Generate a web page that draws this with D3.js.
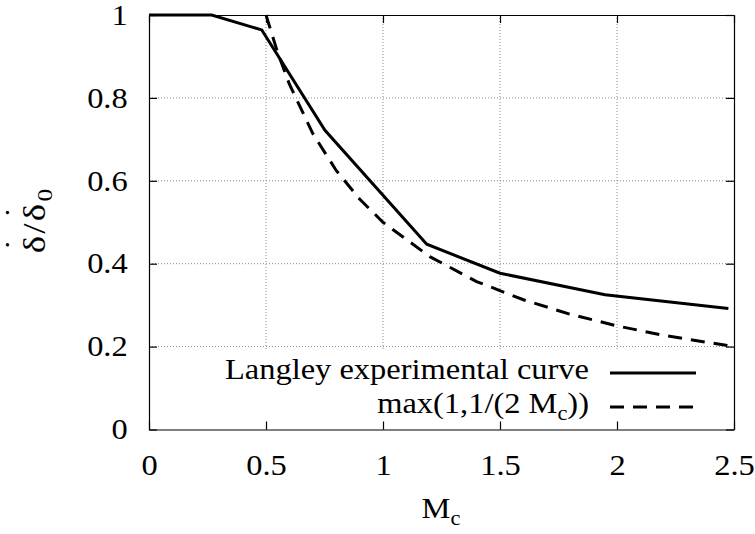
<!DOCTYPE html>
<html>
<head>
<meta charset="utf-8">
<script src="https://cdn.jsdelivr.net/npm/d3@7"></script>
<style>
  body { margin: 0; background: #fff; }
  svg text { font-family: "Liberation Serif", "Times New Roman", serif; fill: #000; }
</style>
</head>
<body>
<svg id="chart" width="755" height="534"></svg>
<script>
// data
var xTicks = [0, 0.5, 1, 1.5, 2, 2.5];
var yTicks = [0, 0.2, 0.4, 0.6, 0.8, 1];
var langleyM = [0, 0.268, 0.482, 0.752, 1.187, 1.5, 1.949, 2.476];
var langleyR = [1, 1, 0.964, 0.722, 0.447, 0.377, 0.325, 0.292];
var modelM = [0.5, 0.55, 0.6, 0.7, 0.8, 0.9, 1.0, 1.2, 1.4, 1.6, 1.8, 2.0, 2.2, 2.5];
var modelR = [1, 0.909, 0.833, 0.714, 0.625, 0.556, 0.5, 0.417, 0.357, 0.313, 0.278, 0.25, 0.227, 0.2];

(function () {
  var padL = 149, padT = 15, w = 585, h = 414.5;
  var fs = 29, sx = 1.12; // serif text looks a bit wide in the original

  var svg = d3.select('#chart');
  var x = d3.scaleLinear().domain([0, 2.5]).range([0, w]);
  var y = d3.scaleLinear().domain([0, 1]).range([h, 0]);

  var g = svg.append('g').attr('transform', 'translate(' + padL + ',' + padT + ')');

  // grid
  g.selectAll('.vgrid').data(xTicks.slice(1, -1)).enter().append('line')
    .attr('x1', d => x(d)).attr('x2', d => x(d))
    .attr('y1', 0).attr('y2', h)
    .attr('stroke', '#8a8a8a').attr('stroke-width', 1).attr('stroke-dasharray', '1,2');
  g.selectAll('.hgrid').data(yTicks.slice(1, -1)).enter().append('line')
    .attr('x1', 0).attr('x2', w)
    .attr('y1', d => y(d)).attr('y2', d => y(d))
    .attr('stroke', '#8a8a8a').attr('stroke-width', 1).attr('stroke-dasharray', '1,2');

  // legend background hides grid under the key
  g.append('rect').attr('x', 58).attr('y', 336).attr('width', 505).attr('height', 76).attr('fill', '#fff');

  // curves
  var line = d3.line().x(d => x(d[0])).y(d => y(d[1]));
  g.append('path').datum(d3.zip(langleyM, langleyR))
    .attr('d', line).attr('fill', 'none').attr('stroke', '#000').attr('stroke-width', 3);
  g.append('path').datum(d3.zip(modelM, modelR))
    .attr('d', line).attr('fill', 'none').attr('stroke', '#000').attr('stroke-width', 3)
    .attr('stroke-dasharray', '14,9');

  // axes, ticks inward and mirrored
  function styleAxis(sel) {
    sel.attr('font-family', null).attr('font-size', null);
    sel.select('.domain').attr('stroke', '#000').attr('stroke-width', 1.2);
    sel.selectAll('.tick line').attr('stroke', '#000').attr('stroke-width', 1.2);
    sel.selectAll('text').style('font-size', fs + 'px')
      .attr('transform', 'scale(' + sx + ',1)');
  }
  var fmt = d3.format('');
  g.append('g').attr('transform', 'translate(0,' + h + ')')
    .call(d3.axisBottom(x).tickValues(xTicks).tickSizeInner(-8).tickSizeOuter(0).tickPadding(25).tickFormat(fmt))
    .call(styleAxis);
  g.append('g')
    .call(d3.axisTop(x).tickValues(xTicks).tickSizeInner(-8).tickSizeOuter(0).tickFormat(''))
    .call(styleAxis);
  g.append('g')
    .call(d3.axisLeft(y).tickValues(yTicks).tickSizeInner(-8).tickSizeOuter(0).tickPadding(19).tickFormat(fmt))
    .call(styleAxis);
  g.append('g').attr('transform', 'translate(' + w + ',0)')
    .call(d3.axisRight(y).tickValues(yTicks).tickSizeInner(-8).tickSizeOuter(0).tickFormat(''))
    .call(styleAxis);

  // legend
  var leg = svg.append('g');
  leg.append('text').attr('transform', 'translate(589,379) scale(' + sx + ',1)')
    .attr('text-anchor', 'end').style('font-size', fs + 'px').text('Langley experimental curve');
  var t2 = leg.append('text').attr('transform', 'translate(589,413) scale(' + sx + ',1)')
    .attr('text-anchor', 'end').style('font-size', fs + 'px');
  t2.append('tspan').text('max(1,1/(2 M');
  t2.append('tspan').attr('dy', 7).style('font-size', '20px').text('c');
  t2.append('tspan').attr('dy', -7).text('))');
  leg.append('line').attr('x1', 610).attr('x2', 696).attr('y1', 373).attr('y2', 373)
    .attr('stroke', '#000').attr('stroke-width', 3);
  leg.append('line').attr('x1', 610).attr('x2', 696).attr('y1', 407).attr('y2', 407)
    .attr('stroke', '#000').attr('stroke-width', 3).attr('stroke-dasharray', '14,9');

  // axis labels
  var xl = svg.append('text').attr('transform', 'translate(441,518) scale(' + sx + ',1)')
    .attr('text-anchor', 'middle').style('font-size', fs + 'px');
  xl.append('tspan').text('M');
  xl.append('tspan').attr('dy', 7).style('font-size', '20px').text('c');

  // y label: delta-dot / delta-dot with subscript 0, dots placed over each delta
  var yg = svg.append('g').attr('transform', 'translate(45,220) rotate(-90) scale(1.15,1)');
  var yl = yg.append('text').attr('text-anchor', 'middle').style('font-size', '32px')
    .style('letter-spacing', '2px');
  yl.append('tspan').text('\u03b4/\u03b4');
  yl.append('tspan').attr('dy', 7).style('font-size', '22px').text('0');
  [0, 2].forEach(function (i) {
    var ext = yl.node().getExtentOfChar(i);
    yg.append('text').attr('x', ext.x + ext.width / 2 - 1).attr('y', -19)
      .attr('text-anchor', 'middle').style('font-size', '29px').text('\u02d9');
  });
})();
</script>
</body>
</html>
